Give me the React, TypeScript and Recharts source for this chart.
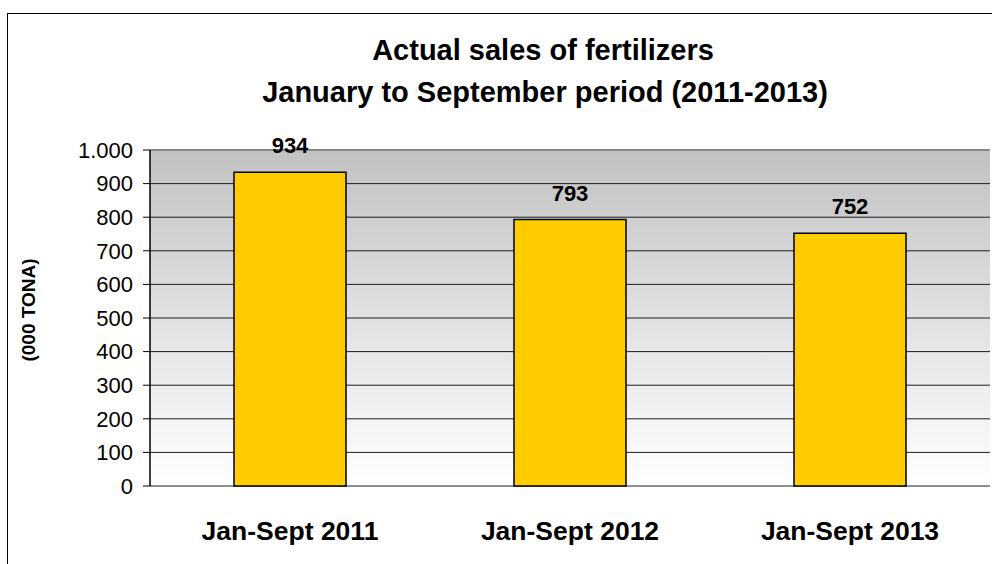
import { BarChart, Bar, XAxis, YAxis, CartesianGrid, ReferenceLine, LabelList } from 'recharts';

const periods = ['Jan-Sept 2011', 'Jan-Sept 2012', 'Jan-Sept 2013'];
const sales = [934, 793, 752];
const yTicks = [0, 100, 200, 300, 400, 500, 600, 700, 800, 900, 1000];
const edgeTicks = [0, 1, 2, 3];

const data = periods.map((period, i) => ({ period, sales: sales[i] }));

const font = '"Liberation Sans", Arial, sans-serif';

const formatThousands = (v: number) => String(v).replace(/\B(?=(\d{3})+(?!\d))/g, '.');

export default function App() {
    return (
        <div
            style={{
                position: 'fixed',
                left: 0,
                top: 0,
                width: 992,
                height: 564,
                overflow: 'hidden',
                background: '#fff',
                fontFamily: font,
            }}
        >
            <div
                style={{
                    position: 'absolute',
                    left: 7,
                    top: 13,
                    width: 1100,
                    height: 700,
                    border: '1.5px solid #000',
                }}
            />
            <div
                style={{
                    position: 'absolute',
                    left: 543,
                    top: 36,
                    transform: 'translateX(-50%)',
                    whiteSpace: 'nowrap',
                    fontSize: 29,
                    lineHeight: '29px',
                    fontWeight: 'bold',
                }}
            >
                Actual sales of fertilizers
            </div>
            <div
                style={{
                    position: 'absolute',
                    left: 545,
                    top: 78,
                    transform: 'translateX(-50%)',
                    whiteSpace: 'nowrap',
                    fontSize: 29,
                    lineHeight: '29px',
                    fontWeight: 'bold',
                }}
            >
                January to September period (2011-2013)
            </div>
            <div
                style={{
                    position: 'absolute',
                    left: 29,
                    top: 310,
                    transform: 'translate(-50%, -50%) rotate(-90deg)',
                    whiteSpace: 'nowrap',
                    fontSize: 19,
                    fontWeight: 'bold',
                }}
            >
                (000 TONA)
            </div>
            <div style={{ position: 'absolute', left: 0, top: 0 }}>
                <BarChart
                    width={992}
                    height={564}
                    data={data}
                    margin={{ top: 150, right: 2, left: 0, bottom: 0 }}
                    barCategoryGap="30%"
                >
                    <defs>
                        <linearGradient id="plotBg" x1="0" y1="0" x2="0" y2="1">
                            <stop offset="0%" stopColor="#c2c2c2" />
                            <stop offset="100%" stopColor="#ffffff" />
                        </linearGradient>
                    </defs>
                    <CartesianGrid
                        vertical={false}
                        stroke="#1e1e1e"
                        strokeWidth={1}
                        fill="url(#plotBg)"
                        fillOpacity={1}
                        yAxisId="y"
                        xAxisId="cat"
                    />
                    <XAxis
                        xAxisId="edge"
                        type="number"
                        domain={[0, 3]}
                        ticks={edgeTicks}
                        height={0}
                        axisLine={{ stroke: '#000', strokeWidth: 1.5 }}
                        tickLine={{ stroke: '#000', strokeWidth: 1 }}
                        tickSize={8}
                        tick={() => <g />}
                        allowDataOverflow
                    />
                    <XAxis
                        xAxisId="cat"
                        dataKey="period"
                        height={78}
                        axisLine={false}
                        tickLine={false}
                        tickSize={0}
                        tickMargin={35}
                        tick={{ fontSize: 26.5, fontWeight: 'bold', fill: '#000', fontFamily: font }}
                    />
                    <YAxis
                        yAxisId="y"
                        width={150}
                        domain={[0, 1000]}
                        ticks={yTicks}
                        interval={0}
                        tickFormatter={formatThousands}
                        axisLine={{ stroke: '#000', strokeWidth: 1.5 }}
                        tickLine={{ stroke: '#000', strokeWidth: 1 }}
                        tickSize={7}
                        tickMargin={10}
                        tick={{ fontSize: 22, fill: '#000', fontFamily: font }}
                    />
                    <ReferenceLine yAxisId="y" xAxisId="cat" y={1000} stroke="#888" strokeWidth={2} />
                    <ReferenceLine yAxisId="y" xAxisId="edge" x={3} stroke="#888" strokeWidth={2} />
                    <Bar
                        xAxisId="cat"
                        yAxisId="y"
                        dataKey="sales"
                        fill="#ffcc00"
                        stroke="#000"
                        strokeWidth={1.5}
                        isAnimationActive={false}
                    >
                        <LabelList
                            dataKey="sales"
                            position="top"
                            offset={19}
                            style={{ fontSize: 22, fontWeight: 'bold', fill: '#000', fontFamily: font }}
                        />
                    </Bar>
                </BarChart>
            </div>
        </div>
    );
}
